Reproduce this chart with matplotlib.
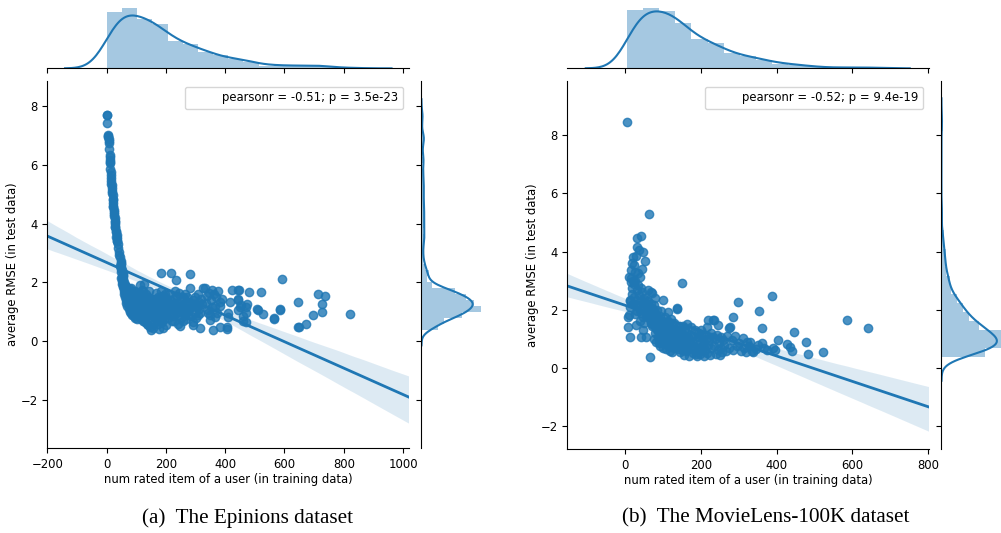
import numpy as np
import matplotlib
matplotlib.use("Agg")
import matplotlib.pyplot as plt
import seaborn as sns
from matplotlib.patches import Rectangle

# ---- data ----
# (a) Epinions: rated items per user vs. average RMSE
epinions_x = [
    # steep branch close to zero
    3, 2, 1, 5, 6, 6, 7, 7, 8,
    10, 10, 11, 12, 13, 14, 15, 16, 17, 18,
    19, 20, 21, 22, 23, 24, 26, 27, 28, 29,
    30, 32, 34, 35, 36, 38, 40, 41, 43, 45,
    47, 48, 50, 52, 54, 56,
    9, 11, 14, 16, 18, 20, 22, 24, 25, 27, 29, 31, 33, 35,
    46, 48, 50, 50, 52, 53, 54, 55, 49, 51,
    # dense cluster
    56, 57, 58, 58, 59, 60, 60, 61, 62, 63, 64, 65, 65, 66, 67, 68, 69, 70, 70, 72,
    73, 74, 75, 76, 77, 78, 79, 80, 81, 82, 83, 84, 85, 86, 87, 88, 89, 90, 91, 92,
    93, 94, 95, 96, 97, 98, 99, 100, 101, 102, 103, 104, 105, 107, 109,
    57, 59, 62, 64, 67, 71, 74, 78, 83, 88, 94, 100, 106,
    110, 111, 112, 113, 114, 115, 116, 117, 118, 119, 120, 121, 122, 123, 124, 125,
    126, 127, 128, 129, 130, 131, 132, 133, 134, 135, 136, 137, 138, 139, 140, 141,
    142, 143, 144, 145, 146, 147, 148, 149, 150, 151, 152, 153, 155, 156, 157, 158,
    160, 161, 162, 164,
    113, 118, 124, 130, 136, 143, 150, 157, 163,
    165, 166, 167, 168, 169, 170, 171, 172, 173, 174, 175, 176, 177, 178, 179, 180,
    181, 182, 183, 184, 185, 186, 187, 188, 189, 190, 191, 192, 193, 194, 195, 196,
    198, 200, 202, 204, 206, 208, 210, 212, 214, 216, 218, 219,
    170, 181, 192, 203, 214,
    221, 223, 225, 227, 229, 231, 233, 234, 236, 238, 240, 242, 244, 245, 247, 248,
    250, 252, 254, 256, 258, 259, 261, 263, 265, 266, 268, 270, 272, 273, 274, 230, 255,
    276, 278, 281, 283, 285, 287, 290, 292, 293, 295, 297, 299, 301, 303, 305, 307,
    309, 311, 313, 315, 315, 318, 322, 325,
    332, 335, 338, 341, 343, 345, 349, 350, 352, 354, 357, 360, 362, 365, 365, 368,
    373, 376, 382, 382, 384,
    # sparse right part
    388, 405, 405, 410, 410, 416, 424,
    443, 444, 444, 446, 443, 450, 455, 460, 460, 470, 470, 470, 472, 481,
    507, 509, 520, 528, 564, 566, 584, 586, 590, 645, 646, 648, 674, 697, 714, 725,
    725, 736, 820,
]
epinions_y = [
    7.70, 7.68, 7.42, 7.02, 6.98, 6.93, 6.88, 6.80, 6.75,
    6.35, 6.25, 6.15, 6.05, 5.85, 5.75, 5.55, 5.45, 5.30, 5.20,
    5.10, 4.98, 4.85, 4.70, 4.55, 4.40, 4.32, 4.20, 4.10, 3.98,
    3.88, 3.75, 3.62, 3.50, 3.42, 3.30, 3.18, 3.05, 2.95, 2.85,
    2.72, 2.62, 2.52, 2.42, 2.32, 2.22,
    6.55, 6.10, 5.65, 5.35, 5.05, 4.80, 4.60, 4.45, 4.25, 4.05, 3.90, 3.72, 3.55, 3.40,
    2.55, 2.45, 2.35, 2.15, 2.05, 1.95, 2.25, 1.85, 2.65, 2.20,
    2.10, 1.95, 1.85, 1.70, 2.00, 1.60, 1.80, 1.90, 1.50, 1.75, 1.65, 1.40, 1.85, 1.55, 1.30, 1.70, 1.45, 1.20, 1.60, 1.35,
    1.75, 1.10, 1.50, 1.25, 1.65, 1.00, 1.40, 1.55, 0.95, 1.20, 1.80, 1.35, 1.05, 1.60, 0.90, 1.45, 1.25, 1.15, 0.85, 1.70,
    1.30, 1.00, 1.50, 0.80, 1.20, 1.40, 1.10, 0.95, 1.65, 1.30, 0.75, 1.05, 1.45, 1.20, 0.90,
    1.95, 1.80, 1.90, 1.65, 1.75, 1.55, 1.80, 1.45, 1.60, 1.40, 1.70, 1.35, 1.50,
    1.55, 0.85, 1.90, 1.10, 1.35, 0.75, 1.60, 1.20, 0.95, 1.45, 1.75, 1.05, 0.70, 1.30, 1.50, 0.90,
    1.15, 1.95, 0.65, 1.40, 1.25, 0.80, 1.05, 1.60, 1.00, 1.35, 0.60, 1.20, 1.50, 0.85, 1.10, 0.55,
    1.30, 1.70, 0.95, 1.15, 0.50, 1.40, 1.25, 0.70, 0.39, 1.05, 1.45, 0.88, 1.20, 0.45, 1.00, 1.35,
    0.62, 1.15, 0.80, 1.28,
    1.60, 1.40, 1.70, 1.30, 1.50, 1.25, 1.45, 1.20, 1.35,
    1.40, 0.95, 1.20, 1.65, 0.70, 1.05, 1.30, 0.85, 1.50, 1.10, 0.60, 1.25, 1.00, 0.41, 1.45, 0.80,
    1.15, 1.70, 0.92, 1.35, 2.31, 0.65, 1.10, 1.55, 0.88, 1.20, 0.45, 1.02, 1.38, 0.75, 1.28, 1.60,
    0.90, 1.15, 0.55, 1.45, 1.05, 0.78, 1.25, 1.62, 0.95, 2.33, 1.12, 0.70,
    1.45, 1.30, 1.55, 1.25, 1.40,
    1.20, 0.85, 1.45, 1.05, 0.70, 1.30, 0.95, 2.08, 1.15, 1.55, 0.60, 1.25, 0.90, 1.63, 0.53, 1.10,
    1.40, 0.80, 1.20, 1.00, 1.50, 0.68, 1.28, 0.95, 1.12, 1.60, 0.75, 1.35, 1.51, 1.02, 0.88, 1.70, 1.18,
    1.05, 1.30, 2.27, 1.80, 0.85, 1.15, 1.40, 0.66, 0.56, 1.25, 0.95, 1.50, 0.78, 1.20, 1.18, 1.62,
    0.90, 1.35, 1.08, 0.45, 0.96, 1.45, 1.25, 1.80,
    1.80, 1.30, 1.55, 0.95, 1.06, 1.65, 0.73, 0.90, 1.40, 1.75, 1.15, 0.39, 1.60, 0.84, 1.20, 1.50,
    0.96, 1.70, 1.35, 0.50, 1.20,
    1.45, 0.41, 0.47, 0.84, 0.95, 1.35, 1.74,
    1.42, 1.74, 1.40, 1.74, 1.05, 1.18, 1.22, 0.85, 0.68, 1.18, 0.96, 0.65, 1.26, 1.67,
    1.09, 1.06, 1.67, 0.94, 0.74, 0.78, 1.06, 1.09, 2.11, 0.50, 1.33, 0.48, 0.58, 0.90, 1.60, 1.27,
    1.01, 1.54, 0.91,
]

# (b) MovieLens-100K
movielens_x = [
    5, 10, 12, 12, 8, 8, 11, 13, 15, 15, 17, 21, 26, 30, 30, 30, 30, 39, 43, 43,
    48, 20, 24, 14, 18, 22, 26, 35, 28, 40, 45, 50, 38, 46, 33, 48, 51, 36, 42, 25,
    19, 32, 44, 50, 47,
    16, 22, 27, 29, 35, 37, 41, 45, 20,
    53, 55, 55, 56, 57, 58, 60, 61, 62, 63, 64, 65, 66, 67, 67, 68, 70, 70, 71, 72,
    73, 74, 75, 76, 77, 78, 79, 80, 81, 82, 83, 84, 85, 86, 87, 88, 89, 90, 91, 92,
    93, 94, 95, 96,
    54, 59, 63, 69, 74, 79, 84, 89, 94,
    98, 99, 100, 101, 102, 103, 104, 105, 106, 107, 108, 109, 110, 111, 112, 113,
    114, 115, 116, 117, 118, 119, 120, 121, 122, 123, 124, 125, 126, 127, 128, 129,
    130, 131, 132, 133, 134, 135, 136, 137, 139, 141,
    100, 106, 112, 118, 124, 130, 136, 141,
    143, 144, 145, 146, 147, 148, 149, 150, 151, 152, 153, 154, 155, 156, 157, 158,
    160, 161, 162, 164, 165, 167, 168, 170, 172, 174, 176, 178, 180, 182, 184, 186,
    150, 161, 172, 183,
    189, 190, 192, 194, 195, 197, 198, 200, 202, 203, 205, 207, 208, 210, 212, 213,
    215, 217, 219, 220, 222, 224, 226, 228, 231, 233,
    235, 236, 238, 240, 242, 244, 246, 248, 250, 252, 254, 256, 258, 262, 266, 270,
    274, 275, 277,
    282, 286, 286, 290, 295, 299, 302, 306, 311, 315, 318, 322,
    328, 330, 336, 339, 345, 350, 354, 361, 361, 366,
    375, 387, 392, 396, 404,
    428, 436, 440, 445, 479, 482, 522, 586, 643,
]
movielens_y = [
    8.46, 3.14, 2.30, 1.08, 1.42, 1.76, 1.82, 2.34, 3.37, 2.97, 3.62, 3.83, 3.30, 4.46, 4.17, 2.68, 2.34, 3.14, 4.55, 1.08,
    4.00, 3.00, 2.90, 2.10, 2.55, 2.45, 1.85, 2.85, 1.47, 2.00, 2.60, 2.25, 1.60, 1.75, 2.15, 1.30, 2.40, 2.50, 1.90, 2.15,
    2.75, 1.95, 2.30, 1.55, 2.05,
    3.10, 3.55, 3.00, 3.85, 3.25, 4.05, 2.75, 3.40, 2.20,
    3.69, 2.20, 1.90, 1.08, 2.00, 1.80, 2.30, 2.68, 1.75, 5.30, 1.95, 0.37, 1.70, 2.60, 2.20, 1.55, 2.57, 1.50, 2.05, 1.45,
    1.85, 1.65, 2.15, 1.00, 1.65, 1.90, 2.40, 1.20, 1.55, 0.90, 1.75, 1.30, 2.00, 1.05, 1.45, 1.60, 0.85, 1.25, 1.80, 1.10,
    0.75, 1.40, 1.95, 1.00,
    2.35, 1.85, 2.10, 1.60, 1.95, 1.40, 1.70, 1.25, 1.50,
    1.30, 0.70, 2.34, 1.55, 1.05, 0.85, 1.40, 1.75, 0.95, 1.20, 0.65, 1.50, 1.10, 0.80, 1.35, 1.60,
    1.91, 0.90, 1.25, 1.45, 0.60, 1.15, 1.00, 1.70, 0.75, 1.30, 1.05, 0.55, 1.40, 1.20, 0.95, 1.55,
    0.70, 1.10, 1.35, 0.85, 1.25, 1.00, 2.05, 2.04, 0.65, 1.45,
    1.30, 0.90, 1.20, 0.80, 1.05, 0.75, 0.95, 0.85,
    1.05, 0.55, 1.30, 0.75, 1.15, 0.90, 2.91, 0.62, 1.20, 1.45, 0.80, 1.00, 0.45, 1.10, 1.35, 0.70,
    0.95, 1.25, 0.58, 1.50, 0.85, 1.05, 0.42, 1.15, 0.68, 1.40, 0.90, 0.52, 1.10, 0.75, 1.30, 0.50,
    0.90, 0.70, 0.85, 0.65,
    0.95, 0.40, 1.20, 0.68, 1.05, 0.50, 0.85, 1.30, 0.58, 1.10, 0.75, 0.90, 0.42, 1.15, 0.62, 1.00,
    1.40, 0.52, 0.80, 1.65, 0.95, 0.45, 1.20, 0.70, 1.05, 1.65,
    0.75, 1.65, 1.00, 0.50, 1.15, 0.62, 1.48, 0.85, 0.45, 1.05, 0.70, 0.55, 0.95, 0.80, 0.58, 1.10,
    0.68, 1.36, 1.42,
    0.95, 1.75, 0.62, 1.10, 0.75, 2.28, 0.85, 0.60, 1.02, 0.70, 0.56, 0.90,
    0.75, 0.90, 0.60, 0.56, 0.65, 0.80, 1.96, 1.36, 0.85, 0.70,
    0.62, 2.47, 0.68, 0.62, 0.98,
    0.82, 0.73, 0.60, 1.25, 0.91, 0.47, 0.56, 1.65, 1.36,
]

stat_labels = ["pearsonr = -0.51; p = 3.5e-23", "pearsonr = -0.52; p = 9.4e-19"]
captions = ["(a)  The Epinions dataset", "(b)  The MovieLens-100K dataset"]
x_label = "num rated item of a user (in training data)"
y_label = "average RMSE (in test data)"

W, H = 1001, 533
blue = "#1f77b4"
plt.rcParams["font.size"] = 8.4

fig = plt.figure(figsize=(W / 100, H / 100), dpi=100)


def px_axes(left, top, right, bottom, **kw):
    # box given in pixels, origin top-left
    return fig.add_axes([left / W, 1 - bottom / H, (right - left) / W, (bottom - top) / H], **kw)


def kde(values, cut=3, gridsize=200):
    # gaussian kde, "scott" bandwidth the way statsmodels computes it
    v = np.asarray(values, dtype=float)
    n = len(v)
    iqr = np.subtract(*np.percentile(v, [75, 25]))
    bw = 1.059 * min(v.std(ddof=1), iqr / 1.349) * n ** -0.2
    grid = np.linspace(v.min() - cut * bw, v.max() + cut * bw, gridsize)
    dens = np.exp(-0.5 * ((grid[:, None] - v[None, :]) / bw) ** 2).sum(1)
    return grid, dens / (n * bw * np.sqrt(2 * np.pi))


def fd_bins(values):
    return min(len(np.histogram_bin_edges(values, bins="fd")) - 1, 50)


def joint(box, x, y, xlim, ylim, stat, caption, cap_x):
    left, top, right, bottom = box
    mv = (bottom - top) / 5.8
    mh = (right - left) / 5.8
    ax = px_axes(left, top, right, bottom)
    ax_top = px_axes(left, top - 1.2 * mv, right, top - 0.2 * mv, sharex=ax)
    ax_rt = px_axes(right + 0.2 * mh, top, right + 1.2 * mh, bottom, sharey=ax)

    ax.set_xlim(xlim)
    ax.set_ylim(ylim)
    sns.regplot(x=np.array(x), y=np.array(y), ax=ax, color=blue,
                truncate=False, seed=0, line_kws={"linewidth": 2})
    ax.set_xlim(xlim)
    ax.set_ylim(ylim)
    ax.set_xlabel(x_label, labelpad=1.8)
    ax.set_ylabel(y_label, labelpad=1.2)
    ax.spines[["top", "right"]].set_visible(False)
    ax.legend([Rectangle((0, 0), 1, 1, fc="none", ec="none")], [stat],
              loc="upper right")

    ax_top.hist(x, bins=fd_bins(x), density=True, color=blue, alpha=0.4)
    gx, dx = kde(x)
    ax_top.plot(gx, dx, color=blue, lw=1.5)
    ax_top.spines[["top", "right", "left"]].set_visible(False)
    ax_top.tick_params(axis="x", labelbottom=False)
    ax_top.tick_params(axis="y", left=False, labelleft=False)

    ax_rt.hist(y, bins=fd_bins(y), density=True, color=blue, alpha=0.4,
               orientation="horizontal")
    gy, dy = kde(y)
    ax_rt.plot(dy, gy, color=blue, lw=1.5)
    ax_rt.spines[["top", "right", "bottom"]].set_visible(False)
    ax_rt.tick_params(axis="y", labelleft=False)
    ax_rt.tick_params(axis="x", bottom=False, labelbottom=False)

    ax.set_xlim(xlim)
    ax.set_ylim(ylim)

    fig.text(cap_x / W, 1 - 518 / H, caption, ha="center", va="center",
             family="Liberation Serif", fontsize=15.2)


joint((47.3, 81, 409, 448), epinions_x, epinions_y, (-200, 1020), (-3.63, 8.85),
      stat_labels[0], captions[0], 247.5)
joint((567.3, 81, 929, 449), movielens_x, movielens_y, (-153, 803), (-2.78, 9.86),
      stat_labels[1], captions[1], 766)

fig.savefig("out.png", dpi=100)
